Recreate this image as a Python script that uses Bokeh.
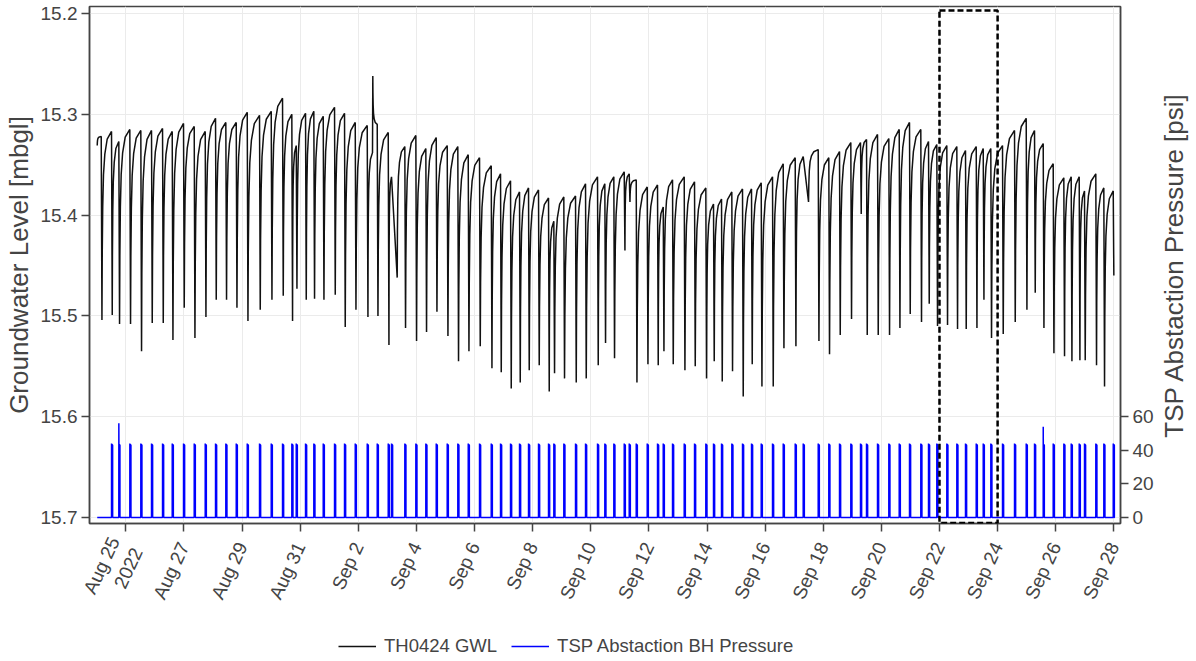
import math
from datetime import datetime
from bokeh.plotting import figure
from bokeh.layouts import column, row
from bokeh.models import (Range1d, LinearAxis, FixedTicker, CustomJSTickFormatter, Grid,
                          BoxAnnotation, Legend, LegendItem, Label)
from bokeh.embed import file_html
from bokeh.resources import INLINE

# ---------------- data ----------------
series_start = "2022-08-24 00:23"
series_end = "2022-09-28 00:00"
start_level = 15.331

# one entry per drawdown event (pump start): level just before, level at bottom
event_time = [
    "2022-08-24 03:41", "2022-08-24 12:11", "2022-08-24 18:13", "2022-08-25 03:18", "2022-08-25 12:23", "2022-08-25 21:13", "2022-08-26 06:19", "2022-08-26 14:19",
    "2022-08-26 23:39", "2022-08-27 08:29", "2022-08-27 17:34", "2022-08-28 02:05", "2022-08-28 10:35", "2022-08-28 19:11", "2022-08-29 04:16", "2022-08-29 14:25",
    "2022-08-30 00:05", "2022-08-30 09:25", "2022-08-30 17:06", "2022-08-30 20:44", "2022-08-31 04:25", "2022-08-31 11:16", "2022-08-31 19:02", "2022-09-01 04:22",
    "2022-09-01 12:37", "2022-09-01 21:28", "2022-09-02 07:22", "2022-09-02 11:44", "2022-09-02 15:38", "2022-09-03 00:43", "2022-09-03 03:26", "2022-09-03 14:25",
    "2022-09-03 23:31", "2022-09-04 07:46", "2022-09-04 16:21", "2022-09-05 01:26", "2022-09-05 10:11", "2022-09-05 18:47", "2022-09-06 04:07", "2022-09-06 13:47",
    "2022-09-06 21:28", "2022-09-07 05:43", "2022-09-07 13:09", "2022-09-07 20:35", "2022-09-08 04:50", "2022-09-08 13:06", "2022-09-08 17:29", "2022-09-09 01:44",
    "2022-09-09 11:24", "2022-09-09 19:40", "2022-09-10 05:34", "2022-09-10 11:36", "2022-09-10 19:02", "2022-09-11 03:37", "2022-09-11 07:45", "2022-09-11 13:32",
    "2022-09-11 22:37", "2022-09-12 07:07", "2022-09-12 11:50", "2022-09-12 19:31", "2022-09-13 05:10", "2022-09-13 13:41", "2022-09-13 23:01", "2022-09-14 05:22",
    "2022-09-14 11:59", "2022-09-14 20:29", "2022-09-15 05:19", "2022-09-15 12:45", "2022-09-15 20:46", "2022-09-16 06:06", "2022-09-16 14:56", "2022-09-17 00:50",
    "2022-09-17 07:27", "2022-09-17 19:50", "2022-09-18 04:35", "2022-09-18 13:26", "2022-09-18 22:46", "2022-09-19 06:46", "2022-09-19 11:44", "2022-09-19 20:49",
    "2022-09-20 06:09", "2022-09-20 14:44", "2022-09-20 23:14", "2022-09-21 08:34", "2022-09-21 14:56", "2022-09-21 21:47", "2022-09-22 06:03", "2022-09-22 14:19",
    "2022-09-22 21:29", "2022-09-23 06:20", "2022-09-23 12:07", "2022-09-23 18:23", "2022-09-24 04:03", "2022-09-24 13:58", "2022-09-24 23:37", "2022-09-25 06:29",
    "2022-09-25 13:40", "2022-09-25 21:55", "2022-09-26 06:41", "2022-09-26 12:47", "2022-09-26 19:23", "2022-09-26 23:46", "2022-09-27 09:06", "2022-09-27 15:43",
    "2022-09-27 23:30",
]
peak_level = [
    15.322, 15.317, 15.327, 15.315, 15.316, 15.316, 15.314, 15.317,
    15.309, 15.312, 15.317, 15.304, 15.308, 15.308, 15.298, 15.301,
    15.297, 15.284, 15.300, 15.331, 15.299, 15.297, 15.302, 15.293,
    15.299, 15.308, 15.311, 15.338, 15.310, 15.318, 15.362, 15.332,
    15.321, 15.334, 15.323, 15.331, 15.332, 15.340, 15.343, 15.351,
    15.359, 15.366, 15.377, 15.373, 15.375, 15.383, 15.406, 15.382,
    15.381, 15.369, 15.362, 15.369, 15.362, 15.357, 15.359, 15.365,
    15.372, 15.370, 15.392, 15.365, 15.362, 15.367, 15.373, 15.389,
    15.384, 15.377, 15.374, 15.374, 15.368, 15.362, 15.349, 15.343,
    15.342, 15.335, 15.343, 15.337, 15.328, 15.328, 15.325, 15.320,
    15.324, 15.315, 15.308, 15.315, 15.327, 15.330, 15.331, 15.332,
    15.336, 15.332, 15.334, 15.334, 15.331, 15.316, 15.304, 15.316,
    15.329, 15.349, 15.363, 15.362, 15.362, 15.376, 15.359, 15.373,
    15.376,
]
trough_level = [
    15.504, 15.499, 15.508, 15.508, 15.535, 15.507, 15.507, 15.524,
    15.492, 15.522, 15.501, 15.484, 15.484, 15.492, 15.505, 15.494,
    15.484, 15.480, 15.505, 15.473, 15.484, 15.483, 15.484, 15.479,
    15.511, 15.494, 15.501, 15.262, 15.500, 15.529, 15.462, 15.512,
    15.525, 15.516, 15.496, 15.520, 15.545, 15.535, 15.530, 15.552,
    15.556, 15.572, 15.566, 15.554, 15.549, 15.575, 15.557, 15.562,
    15.566, 15.562, 15.549, 15.527, 15.542, 15.435, 15.387, 15.566,
    15.548, 15.549, 15.535, 15.548, 15.554, 15.550, 15.562, 15.545,
    15.565, 15.555, 15.580, 15.548, 15.570, 15.570, 15.532, 15.530,
    15.387, 15.525, 15.538, 15.519, 15.503, 15.399, 15.519, 15.519,
    15.519, 15.512, 15.498, 15.506, 15.488, 15.510, 15.509, 15.513,
    15.513, 15.512, 15.484, 15.522, 15.518, 15.506, 15.494, 15.477,
    15.512, 15.537, 15.540, 15.545, 15.544, 15.544, 15.549, 15.570,
    15.460,
]
drop_hours = [
    0.6, 0.6, 0.6, 0.6, 0.6, 0.6, 0.6, 0.6,
    0.6, 0.6, 0.6, 0.6, 0.6, 0.6, 0.6, 0.6,
    0.6, 0.6, 0.6, 0.6, 0.6, 0.6, 0.6, 0.6,
    0.6, 0.6, 0.6, 0.25, 0.6, 0.6, 4.7, 0.6,
    0.6, 0.6, 0.6, 0.6, 0.6, 0.6, 0.6, 0.6,
    0.6, 0.6, 0.6, 0.6, 0.6, 0.6, 0.6, 0.6,
    0.6, 0.6, 0.6, 0.6, 0.6, 0.6, 0.6, 0.6,
    0.6, 0.6, 0.6, 0.6, 0.6, 0.6, 0.6, 0.6,
    0.6, 0.6, 0.6, 0.6, 0.6, 0.6, 0.6, 0.6,
    4.4, 0.6, 0.6, 0.6, 0.6, 0.6, 0.6, 0.6,
    0.6, 0.6, 0.6, 0.6, 0.6, 0.6, 0.6, 0.6,
    0.6, 0.6, 0.6, 0.6, 0.6, 0.6, 0.6, 0.6,
    0.6, 0.6, 0.6, 0.6, 0.6, 0.6, 0.6, 0.6,
    0.5,
]
pump_psi = [
    0, 44, 56, 44, 44, 44, 44, 44,
    44, 44, 44, 44, 44, 44, 44, 44,
    44, 44, 44, 44, 44, 44, 44, 44,
    44, 44, 44, 0, 44, 44, 44, 44,
    44, 44, 44, 44, 44, 44, 44, 44,
    44, 44, 44, 44, 44, 44, 44, 44,
    44, 44, 44, 44, 44, 44, 44, 44,
    44, 44, 44, 44, 44, 44, 44, 44,
    44, 44, 44, 44, 44, 44, 44, 44,
    44, 44, 44, 44, 44, 44, 44, 44,
    44, 44, 44, 44, 44, 44, 44, 44,
    44, 44, 44, 44, 44, 44, 44, 44,
    54, 44, 44, 44, 44, 44, 44, 44,
    44,
]
pump_plateau_psi = 43.5
pump_minutes = 55

# typical recovery curve read from one cycle (fraction of interval -> fraction recovered)
RECOVERY_TIME = [0.0, 0.03, 0.08, 0.16, 0.30, 0.55, 1.0]
RECOVERY_GAIN = [0.0, 0.35, 0.60, 0.77, 0.88, 0.96, 1.0]

x_ticks = ["2022-08-25", "2022-08-27", "2022-08-29", "2022-08-31", "2022-09-02", "2022-09-04",
           "2022-09-06", "2022-09-08", "2022-09-10", "2022-09-12", "2022-09-14", "2022-09-16",
           "2022-09-18", "2022-09-20", "2022-09-22", "2022-09-24", "2022-09-26", "2022-09-28"]
x_tick_labels = ["Aug 25\n2022", "Aug 27", "Aug 29", "Aug 31", "Sep 2", "Sep 4", "Sep 6", "Sep 8",
                 "Sep 10", "Sep 12", "Sep 14", "Sep 16", "Sep 18", "Sep 20", "Sep 22", "Sep 24",
                 "Sep 26", "Sep 28"]
gwl_ticks = [15.2, 15.3, 15.4, 15.5, 15.6, 15.7]
gwl_tick_labels = ["15.2", "15.3", "15.4", "15.5", "15.6", "15.7"]
psi_ticks = [0, 20, 40, 60]
psi_tick_labels = ["0", "20", "40", "60"]

x_view = ["2022-08-23 18:00", "2022-09-28 05:30"]
gwl_view = [15.706, 15.193]     # bottom, top (inverted axis)
psi_view = [-3.57, 303.9]

highlight_time = ["2022-09-22 00:00", "2022-09-24 00:00"]
highlight_level = [15.7055, 15.197]

left_title = "Groundwater Level [mbgl]"
right_title = "TSP Abstaction Pressure [psi]"
series_names = ["TH0424 GWL", "TSP Abstaction BH Pressure"]

# ---------------- build ----------------
EPOCH = datetime(1970, 1, 1)


def to_ms(s):
    fmt = "%Y-%m-%d %H:%M" if " " in s else "%Y-%m-%d"
    return (datetime.strptime(s, fmt) - EPOCH).total_seconds() * 1000.0


HOUR = 3600e3
MIN = 60e3

gx, gy = [to_ms(series_start)], [start_level]
prev_t, prev_v = gx[0], gy[0]
for ts, pk, tr, dh in zip(event_time, peak_level, trough_level, drop_hours):
    t = to_ms(ts)
    for ft, fv in zip(RECOVERY_TIME[1:], RECOVERY_GAIN[1:]):
        gx.append(prev_t + ft * (t - prev_t))
        gy.append(prev_v + fv * (pk - prev_v))
    prev_t, prev_v = t + dh * HOUR, tr
    gx.append(prev_t)
    gy.append(prev_v)

bx, by = [to_ms(series_start)], [0.0]
for ts, psi in zip(event_time, pump_psi):
    if psi <= 0:
        continue
    t = to_ms(ts)
    bx += [t, t + 1 * MIN, t + 5 * MIN, t + pump_minutes * MIN, t + (pump_minutes + 1) * MIN]
    by += [0.0, psi, pump_plateau_psi, pump_plateau_psi - 0.5, 0.0]
bx.append(to_ms(series_end))
by.append(0.0)

FONT = "Liberation Sans"
TXT = "#444444"
GRID = "#ebebeb"
BLACK = "#111111"
BLUE = "#0000ff"

TOTAL_W = 1190
TITLE_W = 32
MAIN_W = TOTAL_W - TITLE_W
MAIN_H = 622
LEFT_B, TOP_B = 89, 6
RIGHT_B = MAIN_W - 1120
BOTTOM_B = MAIN_H - 523

p = figure(width=MAIN_W, height=MAIN_H, x_axis_type="datetime", output_backend="svg",
           toolbar_location=None,
           x_range=Range1d(to_ms(x_view[0]), to_ms(x_view[1])),
           y_range=Range1d(gwl_view[0], gwl_view[1]),
           min_border_left=LEFT_B, min_border_right=RIGHT_B, min_border_top=TOP_B,
           min_border_bottom=BOTTOM_B)
p.extra_y_ranges = {"psi": Range1d(psi_view[0], psi_view[1])}
p.background_fill_color = "white"
p.border_fill_color = "white"
p.outline_line_color = TXT
p.outline_line_width = 1.5

right = LinearAxis(y_range_name="psi")
p.add_layout(right, "right")

fmt_code = """
const i = vals.findIndex((v) => Math.abs(v - tick) <= 1e-9 * Math.max(1, Math.abs(v)));
return i >= 0 ? labs[i] : "";
"""
p.xaxis.ticker = FixedTicker(ticks=[to_ms(s) for s in x_ticks])
p.xaxis.formatter = CustomJSTickFormatter(args=dict(vals=[to_ms(s) for s in x_ticks], labs=x_tick_labels), code=fmt_code)
p.yaxis[0].ticker = FixedTicker(ticks=gwl_ticks)
p.yaxis[0].formatter = CustomJSTickFormatter(args=dict(vals=gwl_ticks, labs=gwl_tick_labels), code=fmt_code)
right.ticker = FixedTicker(ticks=psi_ticks)
right.formatter = CustomJSTickFormatter(args=dict(vals=psi_ticks, labs=psi_tick_labels), code=fmt_code)

p.yaxis[0].axis_label = left_title

for ax in [p.xaxis[0], p.yaxis[0], right]:
    ax.axis_line_color = TXT
    ax.axis_line_width = 1.5
    ax.major_tick_line_color = TXT
    ax.major_tick_line_width = 1.5
    ax.major_tick_out = 8
    ax.major_tick_in = 0
    ax.minor_tick_out = 0
    ax.minor_tick_in = 0
    ax.major_label_text_font = FONT
    ax.major_label_text_font_size = "19px"
    ax.major_label_text_color = TXT
    ax.major_label_standoff = 4
    ax.axis_label_text_font = FONT
    ax.axis_label_text_font_size = "26px"
    ax.axis_label_text_font_style = "normal"
    ax.axis_label_text_color = TXT
    ax.axis_label_standoff = 4

p.xaxis.major_label_orientation = math.radians(65)
p.xaxis.major_label_standoff = 12

p.xgrid.ticker = p.xaxis[0].ticker
p.ygrid.ticker = p.yaxis[0].ticker
p.xgrid.grid_line_color = GRID
p.ygrid.grid_line_color = GRID
psi_grid = Grid(dimension=1, axis=right, grid_line_color=GRID)
p.add_layout(psi_grid)

blue = p.line(bx, by, y_range_name="psi", line_color=BLUE, line_width=1.5)
black = p.line(gx, gy, line_color=BLACK, line_width=1.5)

box = BoxAnnotation(left=to_ms(highlight_time[0]), right=to_ms(highlight_time[1]),
                    bottom=highlight_level[0], top=highlight_level[1],
                    fill_alpha=0, line_color="black", line_alpha=1.0, line_width=2.5,
                    line_dash="6 3")
p.add_layout(box)

# right-hand axis title (reads bottom to top), in its own narrow strip
rt = figure(width=TITLE_W, height=MAIN_H, output_backend="svg", toolbar_location=None,
            x_axis_location=None, y_axis_location=None,
            min_border_left=0, min_border_right=0, min_border_top=TOP_B, min_border_bottom=BOTTOM_B,
            x_range=Range1d(0, TITLE_W), y_range=Range1d(0, 1))
rt.outline_line_color = None
rt.grid.visible = False
rt.add_layout(Label(x=15, y=0.5, text=right_title, angle=math.pi / 2,
                    text_align="center", text_baseline="middle",
                    text_font=FONT, text_font_size="26px", text_color=TXT))

# legend strip below the chart
leg = figure(width=TOTAL_W, height=38, output_backend="svg", toolbar_location=None,
             x_axis_location=None, y_axis_location=None,
             min_border_left=LEFT_B, min_border_right=TOTAL_W - 1120, min_border_top=0,
             min_border_bottom=0, x_range=Range1d(0, 1), y_range=Range1d(0, 1))
leg.outline_line_color = None
leg.grid.visible = False
lk = leg.line(gx, gy, line_color=BLACK, line_width=1.5)     # out of this strip's view
lb = leg.line(bx, by, line_color=BLUE, line_width=1.5)
legend = Legend(items=[LegendItem(label=series_names[0], renderers=[lk]),
                       LegendItem(label=series_names[1], renderers=[lb])],
                orientation="horizontal", location=(338 - LEFT_B, 3),
                label_text_font=FONT, label_text_font_size="18.5px", label_text_color=TXT,
                glyph_width=38, glyph_height=20, label_height=20, label_standoff=8,
                spacing=14, padding=2, margin=0, border_line_color=None,
                background_fill_alpha=0)
leg.add_layout(legend)

open("out.html", "w").write(file_html(column(row(p, rt), leg), INLINE))
